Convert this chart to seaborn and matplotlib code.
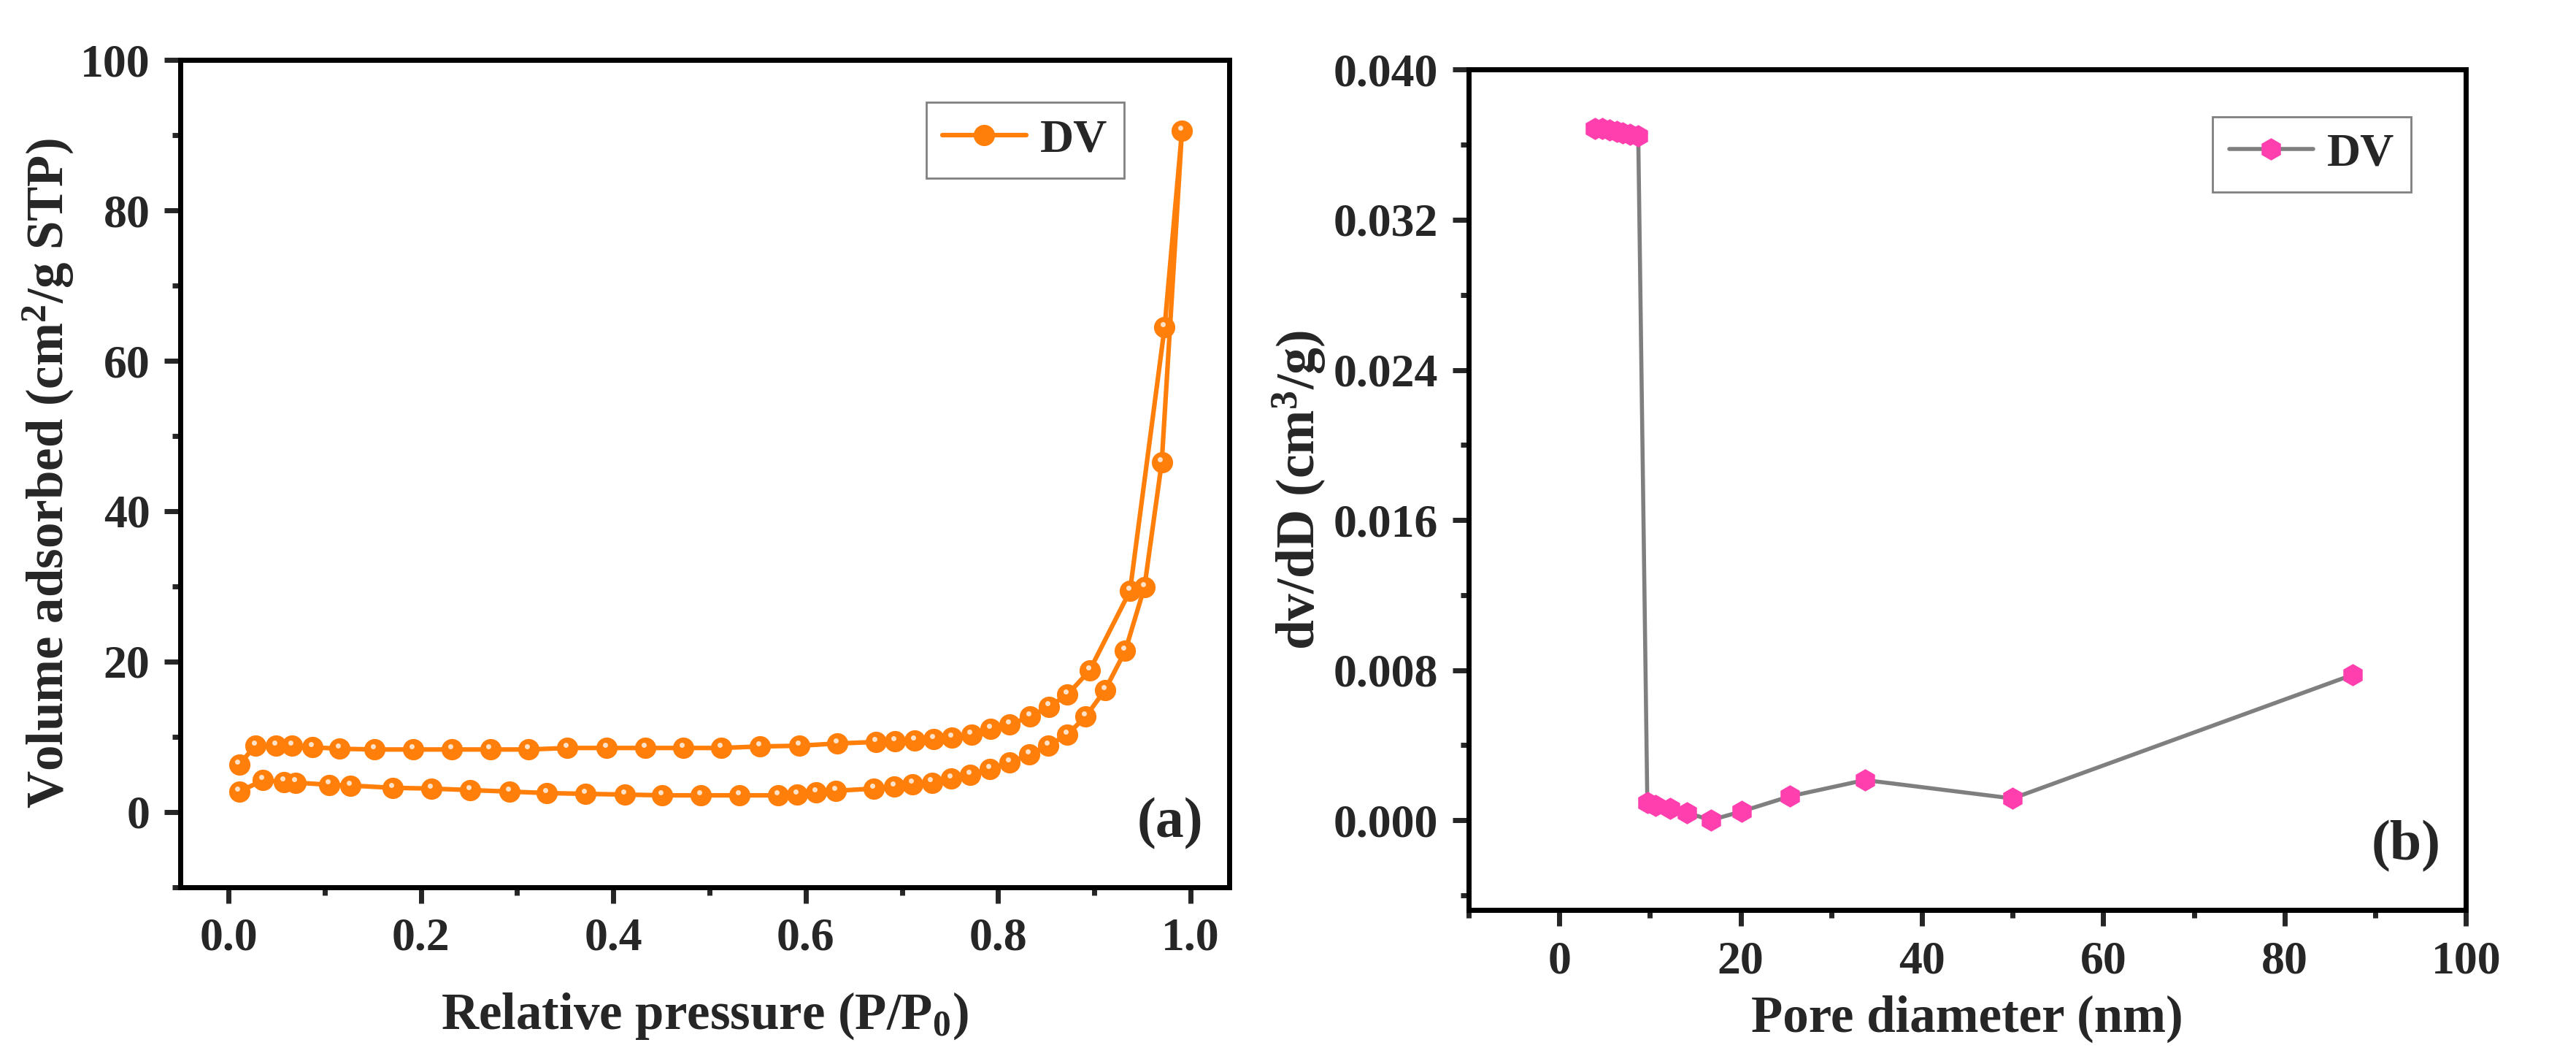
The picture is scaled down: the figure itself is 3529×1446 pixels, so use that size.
import numpy as np
import pandas as pd
import seaborn as sns
import matplotlib.pyplot as plt
import matplotlib.transforms as mtransforms
from matplotlib.ticker import MultipleLocator, AutoMinorLocator

# --- panel (a): N2 isotherm, adsorption branch then desorption branch
ads_p = [0.011, 0.036, 0.058, 0.070, 0.105, 0.127, 0.171, 0.211, 0.251, 0.292,
         0.331, 0.371, 0.412, 0.451, 0.491, 0.531, 0.571, 0.591, 0.611, 0.631,
         0.671, 0.692, 0.711, 0.731, 0.751, 0.771, 0.791, 0.812, 0.832, 0.852,
         0.872, 0.891, 0.911, 0.932, 0.952, 0.970, 0.991]
ads_v = [2.7, 4.2, 4.0, 3.9, 3.6, 3.5, 3.2, 3.1, 2.9, 2.7,
         2.5, 2.4, 2.3, 2.2, 2.2, 2.2, 2.2, 2.3, 2.6, 2.8,
         3.1, 3.4, 3.7, 3.9, 4.4, 4.9, 5.7, 6.6, 7.6, 8.8,
         10.3, 12.7, 16.2, 21.4, 29.9, 46.5, 90.6]
des_p = [0.973, 0.937, 0.895, 0.872, 0.853, 0.833, 0.812, 0.792, 0.772, 0.752,
         0.733, 0.713, 0.693, 0.673, 0.633, 0.593, 0.552, 0.512, 0.473, 0.433,
         0.393, 0.352, 0.312, 0.272, 0.232, 0.192, 0.152, 0.115, 0.087, 0.066,
         0.049, 0.028, 0.011]
des_v = [64.5, 29.4, 18.8, 15.6, 14.0, 12.7, 11.6, 11.0, 10.3, 9.9,
         9.7, 9.5, 9.4, 9.3, 9.1, 8.8, 8.7, 8.5, 8.5, 8.5,
         8.5, 8.5, 8.3, 8.3, 8.3, 8.3, 8.3, 8.4, 8.6, 8.8,
         8.8, 8.8, 6.3]

# --- panel (b): pore size distribution
pore_d = [3.9, 4.7, 5.5, 6.3, 7.0, 7.8, 8.7, 9.7, 10.6, 12.2, 14.1, 16.7,
          20.1, 25.4, 33.7, 50.0, 87.5]
dvdd = [0.03688, 0.03685, 0.03680, 0.03672, 0.03665, 0.03657, 0.03648, 0.00094,
        0.00080, 0.00062, 0.00040, 0.0000, 0.00047, 0.00127, 0.00214, 0.00116,
        0.00775]

ORANGE = '#ff7f0a'
PINK = '#ff3fae'
GREY = '#7f7f7f'

sns.set_theme(style='white')
plt.rcParams['font.family'] = ['Liberation Serif', 'DejaVu Serif']
plt.rcParams['font.weight'] = 'bold'
plt.rcParams['axes.labelweight'] = 'bold'
plt.rcParams['mathtext.fontset'] = 'custom'
plt.rcParams['mathtext.rm'] = 'Liberation Serif:bold'
plt.rcParams['mathtext.it'] = 'Liberation Serif:bold'
plt.rcParams['mathtext.bf'] = 'Liberation Serif:bold'

fig = plt.figure(figsize=(35.3, 14.46), dpi=100)
ax1 = fig.add_axes([0.070, 0.160, 0.407, 0.783])
ax2 = fig.add_axes([0.570, 0.138, 0.387, 0.796])

iso = pd.DataFrame({'p': ads_p + des_p, 'v': ads_v + des_v})
sns.lineplot(data=iso, x='p', y='v', sort=False, estimator=None, ax=ax1,
             color=ORANGE, lw=4.5, marker='o', markersize=21,
             markeredgewidth=0, label='DV')
# little highlight on each ball
hl = mtransforms.offset_copy(ax1.transData, fig=fig, x=-1.5, y=3, units='points')
ax1.plot(iso['p'], iso['v'], ls='none', marker='o', ms=5, color='#ffe2c8',
         mec='none', transform=hl)

psd = pd.DataFrame({'d': pore_d, 'dv': dvdd})
sns.lineplot(data=psd, x='d', y='dv', sort=False, estimator=None, ax=ax2,
             color=GREY, lw=4, marker='h', markersize=22, markerfacecolor=PINK,
             markeredgewidth=0, label='DV')

ax1.set_xlim(-0.05, 1.04)
ax1.set_ylim(-10, 100)
ax1.xaxis.set_major_locator(MultipleLocator(0.2))
ax1.yaxis.set_major_locator(MultipleLocator(20))
ax1.xaxis.set_major_formatter(plt.FormatStrFormatter('%.1f'))
ax1.set_xlabel('Relative pressure (P/P$_0$)', fontsize=51, labelpad=30)
ax1.set_ylabel('Volume adsorbed (cm$^2$/g STP)', fontsize=51, labelpad=4)
ax1.text(0.975, 0.045, '(a)', transform=ax1.transAxes, ha='right', va='bottom',
         fontsize=56, fontweight='bold')

ax2.set_xlim(-10, 100)
ax2.set_ylim(-0.0048, 0.040)
ax2.xaxis.set_major_locator(MultipleLocator(20))
ax2.yaxis.set_major_locator(MultipleLocator(0.008))
ax2.yaxis.set_major_formatter(plt.FormatStrFormatter('%.3f'))
ax2.set_xlabel('Pore diameter (nm)', fontsize=51, labelpad=12)
ax2.set_ylabel('dv/dD (cm$^3$/g)', fontsize=53, labelpad=6)
ax2.text(0.975, 0.045, '(b)', transform=ax2.transAxes, ha='right', va='bottom',
         fontsize=56, fontweight='bold')

legend_anchor = {ax1: (0.922, 0.977), ax2: (0.968, 0.972)}
for ax in (ax1, ax2):
    ax.xaxis.set_minor_locator(AutoMinorLocator(2))
    ax.yaxis.set_minor_locator(AutoMinorLocator(2))
    ax.tick_params(which='major', direction='out', length=16, width=5,
                   labelsize=46, bottom=True, left=True, pad=14)
    ax.tick_params(which='minor', direction='out', length=8, width=5,
                   bottom=True, left=True)
    for s in ax.spines.values():
        s.set_linewidth(5)
        s.set_color('black')
    for lab in ax.get_xticklabels() + ax.get_yticklabels():
        lab.set_fontweight('bold')
    leg = ax.legend(loc='upper right', fontsize=46, frameon=True, fancybox=False,
                    edgecolor='#808080', framealpha=1, handlelength=1.8,
                    borderpad=0.35, handletextpad=0.3,
                    bbox_to_anchor=legend_anchor[ax])
    leg.get_frame().set_linewidth(2)
    for t in leg.get_texts():
        t.set_fontweight('bold')

fig.savefig('out.png', dpi=100, facecolor='white')
